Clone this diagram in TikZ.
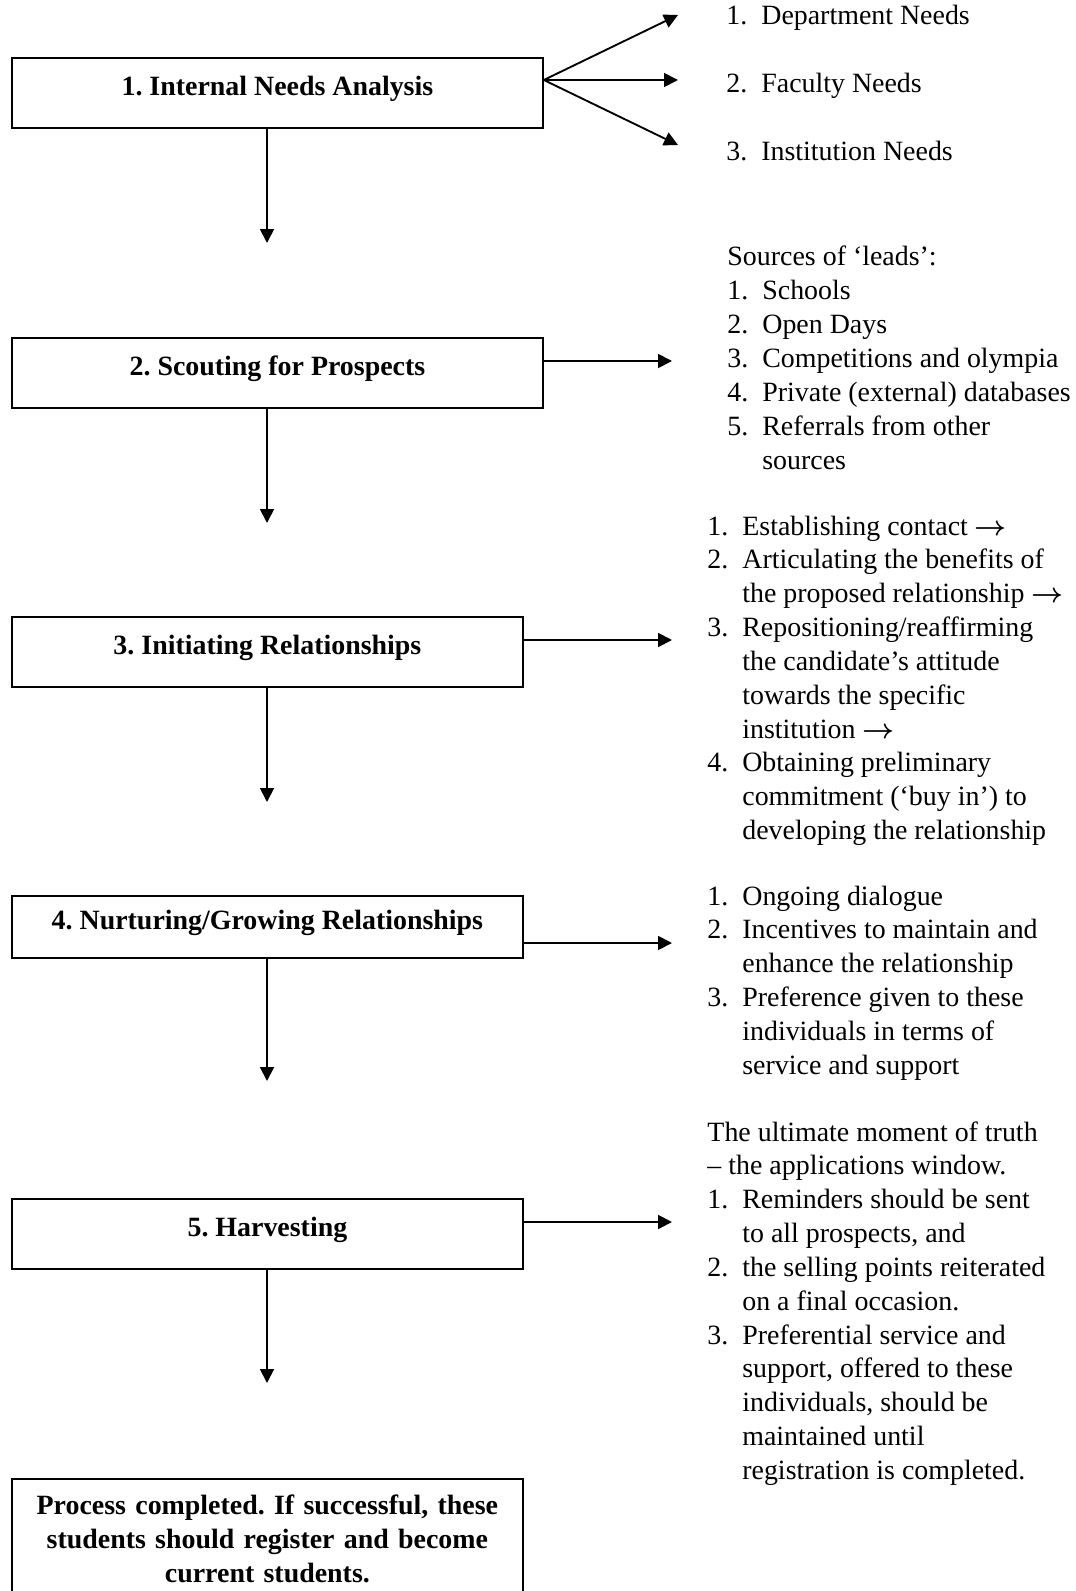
\documentclass[tikz,border=0pt]{standalone}
\usepackage{fontspec}
\setmainfont{Liberation Serif}
\usetikzlibrary{arrows.meta, positioning}

% numbered lines with a hanging indent
\newcommand{\itemrows}[1]{\begin{tabular}[t]{@{}p{15pt}@{}l@{}}#1\end{tabular}}
\newcommand{\plainrow}[1]{\multicolumn{2}{@{}l@{}}{#1}}
\newcommand{\nextarrow}{{\boldmath$\rightarrow$}}

\begin{document}
\frenchspacing
\begin{tikzpicture}[
  x=0.43pt, y=-0.43pt,
  font=\fontsize{12}{14.55}\selectfont,
  >={Triangle[length=6pt, width=6pt]},
  stage/.style={draw, line width=0.8pt, anchor=north west, align=center, inner sep=0pt,
    minimum height=30.1pt, text depth=6pt, font=\fontsize{12}{14.55}\selectfont\bfseries},
  finish/.style={draw, line width=0.8pt, anchor=north west, align=center, inner xsep=0pt, inner ysep=7pt,
    text width=205pt, font=\fontsize{12}{14.55}\selectfont\bfseries},
  wide/.style={minimum width=228.3pt},
  narrow/.style={minimum width=219.7pt},
  items/.style={anchor=base west, inner sep=0pt},
  link/.style={->, line width=0.8pt},
]
  \useasboundingbox (0,0) rectangle (1075,1591);

  % stages
  \node[stage, wide] (b1) at (11,57) {1. Internal Needs Analysis};
  \node[stage, wide] (b2) at (11,337) {2. Scouting for Prospects};
  \node[stage, narrow] (b3) at (11,616) {3. Initiating Relationships};
  \node[stage, narrow, minimum height=26.7pt] (b4) at (11,895) {4. Nurturing/Growing Relationships};
  \node[stage, narrow] (b5) at (11,1198) {5. Harvesting};
  \node[finish, narrow] (b6) at (11,1478)
    {Process completed. If successful, these\\students should register and become\\current students.\strut};

  % arrow ends
  \coordinate (t1) at (267,243);
  \coordinate (t2) at (267,523);
  \coordinate (t3) at (267,802);
  \coordinate (t4) at (267,1081);
  \coordinate (t5) at (267,1383);
  \coordinate (n1) at (678,15);
  \coordinate (n2) at (678,80);
  \coordinate (n3) at (678,145);
  \coordinate (r2) at (672,361);
  \coordinate (r3) at (672,640);
  \coordinate (r4) at (672,943);
  \coordinate (r5) at (672,1222);

  \foreach \i in {1,...,5}
    \draw[link] (t\i |- b\i.south) -- (t\i);
  \foreach \j in {1,2,3}
    \draw[link] (n2 -| b1.east) -- (n\j);
  \foreach \i in {2,...,5}
    \draw[link] (r\i -| b\i.east) -- (r\i);

  % lists on the right
  \node[items] (l1) at (726,25) {\itemrows{1. & Department Needs\\ & \\ 2. & Faculty Needs\\ & \\ 3. & Institution Needs}};
  \node[items] (l2) at (727,266) {\itemrows{\plainrow{Sources of `leads':}\\ 1. & Schools\\ 2. & Open Days\\
    3. & Competitions and olympia\\ 4. & Private (external) databases\\ 5. & Referrals from other\\ & sources}};
  \node[items] (l3) at (707,535) {\itemrows{1. & Establishing contact \nextarrow\\ 2. & Articulating the benefits of\\
    & the proposed relationship \nextarrow\\ 3. & Repositioning/reaffirming\\ & the candidate's attitude\\
    & towards the specific\\ & institution \nextarrow\\ 4. & Obtaining preliminary\\
    & commitment (`buy in') to\\ & developing the relationship}};
  \node[items] (l4) at (707,905) {\itemrows{1. & Ongoing dialogue\\ 2. & Incentives to maintain and\\
    & enhance the relationship\\ 3. & Preference given to these\\ & individuals in terms of\\ & service and support}};
  \node[items] (l5) at (707,1141) {\itemrows{\plainrow{The ultimate moment of truth}\\
    \plainrow{-- the applications window.}\\ 1. & Reminders should be sent\\ & to all prospects, and\\
    2. & the selling points reiterated\\ & on a final occasion.\\ 3. & Preferential service and\\
    & support, offered to these\\ & individuals, should be\\ & maintained until\\ & registration is completed.}};
\end{tikzpicture}
\end{document}
